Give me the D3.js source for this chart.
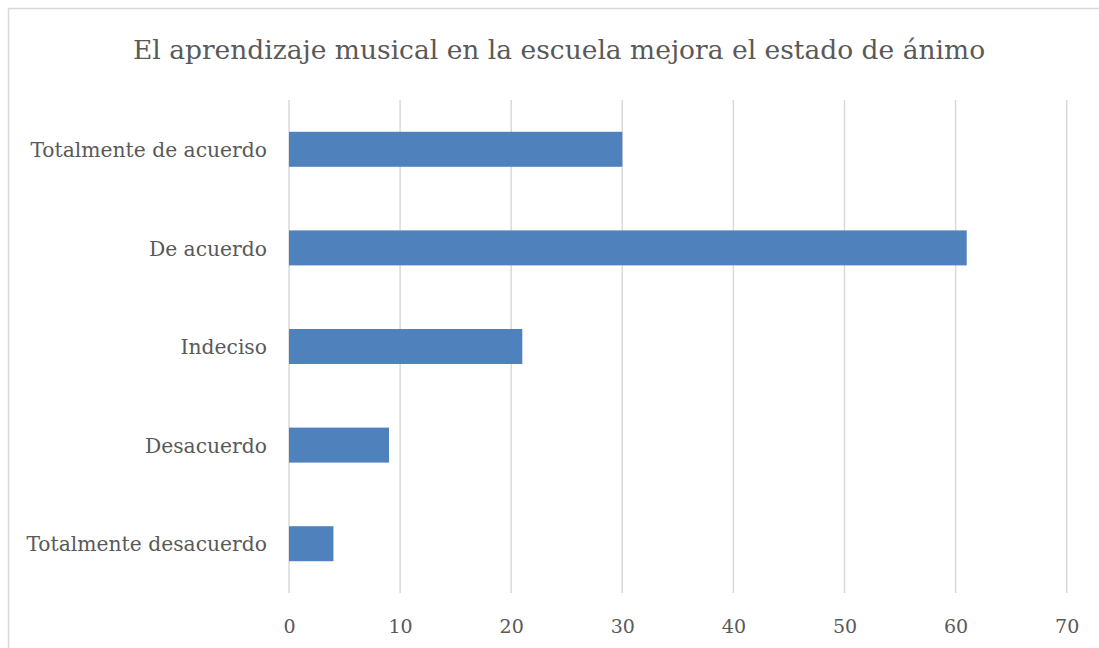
<!DOCTYPE html>
<html>
<head>
<meta charset="utf-8">
<script src="https://cdn.jsdelivr.net/npm/d3@7"></script>
<style>
  html, body { margin: 0; padding: 0; background: #fff; }
  svg { display: block; }
  text { font-family: "DejaVu Serif", "Liberation Serif", serif; fill: #595959; }
</style>
</head>
<body>
<svg id="chart" width="1099" height="648"></svg>
<script>
const titleText = "El aprendizaje musical en la escuela mejora el estado de ánimo";
const categories = ["Totalmente de acuerdo", "De acuerdo", "Indeciso", "Desacuerdo", "Totalmente desacuerdo"];
const values = [30, 61, 21, 9, 4];
const xTicks = [0, 10, 20, 30, 40, 50, 60, 70];

const svg = d3.select("#chart");
const W = 1099, H = 648;
const margin = { left: 289, top: 100 };
const plotBottom = 593;

// chart frame
svg.append("rect")
  .attr("x", 8.5).attr("y", 8.5)
  .attr("width", W + 10).attr("height", H + 10)
  .attr("fill", "#fff").attr("stroke", "#d9d9d9").attr("stroke-width", 1.5);

const x = d3.scaleLinear().domain([0, 70]).range([margin.left, 1066.7]);
const y = d3.scaleBand().domain(categories).range([margin.top, plotBottom]).paddingInner(0.645).paddingOuter(0.3225);

// vertical gridlines
svg.append("g").selectAll("line").data(xTicks).join("line")
  .attr("x1", d => x(d)).attr("x2", d => x(d))
  .attr("y1", margin.top).attr("y2", plotBottom)
  .attr("stroke", "#d9d9d9").attr("stroke-width", 1.5);

// bars
svg.append("g").selectAll("rect").data(values).join("rect")
  .attr("x", x(0))
  .attr("y", (d, i) => y(categories[i]))
  .attr("width", d => x(d) - x(0))
  .attr("height", y.bandwidth())
  .attr("fill", "#4f81bd");

// x axis labels
const xAxis = d3.axisBottom(x).tickValues(xTicks).tickSize(0).tickPadding(0);
const gx = svg.append("g").attr("transform", "translate(0,619)").call(xAxis);
gx.select(".domain").remove();
gx.selectAll("text").attr("font-size", 19).attr("font-family", null).attr("fill", "#595959").attr("dy", "0.73em");

// category labels
const yAxis = d3.axisLeft(y).tickSize(0).tickPadding(22);
const gy = svg.append("g").attr("transform", `translate(${margin.left},0)`).call(yAxis);
gy.select(".domain").remove();
gy.selectAll("text").attr("font-size", 20.3).attr("font-family", null).attr("fill", "#595959").attr("dy", "0.38em");

// title
svg.append("text")
  .attr("x", 559).attr("y", 58.5)
  .attr("text-anchor", "middle")
  .attr("font-size", 26.5)
  .text(titleText);
</script>
</body>
</html>
